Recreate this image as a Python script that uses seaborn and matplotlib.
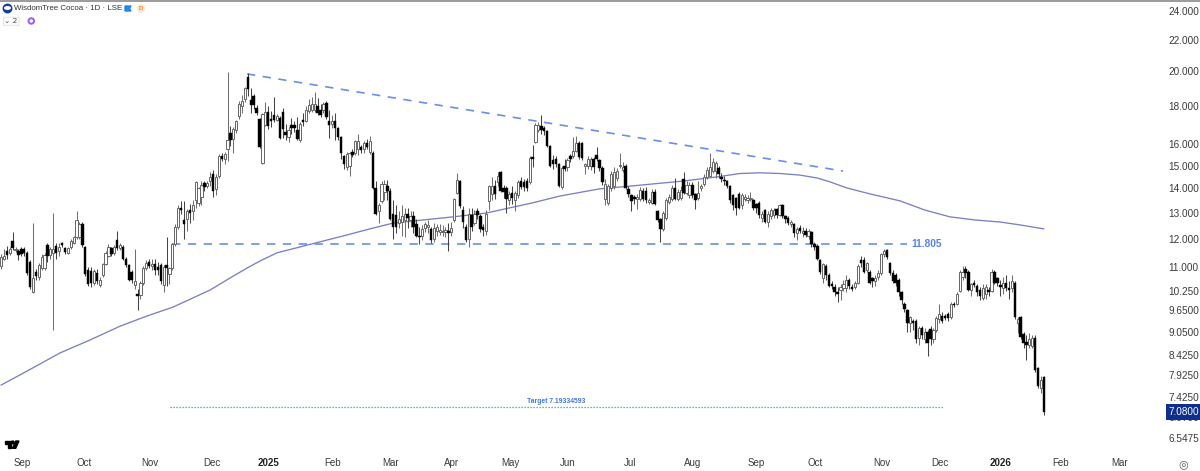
import pandas as pd
import matplotlib
matplotlib.use("Agg")
import matplotlib.pyplot as plt
import seaborn as sns
from matplotlib.lines import Line2D
from matplotlib.patches import Ellipse, FancyBboxPatch, Polygon
from matplotlib.ticker import FixedLocator, NullLocator

# daily candles
opens = [
    11.05, 11.3, 11.55, 11.5, 11.92, 11.6, 11.58, 11.62, 11.65, 11.5,
    11.2, 10.2, 10.85, 10.7, 10.97, 10.98, 11.78, 11.42, 11.48, 11.75,
    11.55, 11.85, 11.68, 11.48, 11.72, 11.85, 12.08, 12.08, 12.55, 11.72,
    10.92, 10.88, 10.5, 10.82, 10.42, 10.75, 11.12, 11.4, 11.68, 11.48,
    11.95, 11.68, 11.72, 11.3, 11.08, 10.85, 10.42, 10.15, 10.12, 10.5,
    10.97, 11.2, 11.05, 11.1, 11.0, 11.08, 10.42, 11.08, 10.78, 10.97,
    11.8, 12.45, 13.2, 12.7, 12.75, 13.1, 13.05, 13.5, 13.4, 13.65,
    14.22, 14.1, 14.3, 14.6, 13.95, 14.52, 15.45, 15.3, 15.75, 16.55,
    16.25, 16.7, 17.45, 18.0, 18.35, 19.65, 18.3, 18.55, 17.85, 17.3,
    15.1, 16.95, 17.65, 17.3, 17.5, 17.25, 17.35, 17.65, 16.6, 16.35,
    16.95, 16.95, 16.7, 16.2, 17.25, 17.2, 17.7, 17.75, 17.75, 18.0,
    17.75, 17.75, 18.15, 17.2, 17.0, 17.15, 16.8, 16.35, 15.45, 14.95,
    15.0, 15.65, 15.6, 15.75, 15.85, 15.75, 16.05, 15.65, 15.6, 14.0,
    13.05, 13.45, 13.85, 14.1, 13.9, 12.95, 12.9, 12.6, 12.65, 12.72,
    12.95, 12.72, 12.88, 12.55, 12.1, 12.1, 12.4, 12.45, 12.38, 12.0,
    12.3, 12.25, 12.25, 12.25, 12.28, 12.25, 12.7, 13.8, 14.3, 13.1,
    12.45, 12.0, 12.9, 12.6, 13.05, 12.88, 12.45, 12.3, 13.45, 13.75,
    14.1, 14.25, 14.7, 14.0, 14.0, 13.5, 13.8, 13.5, 13.72, 14.3,
    14.25, 14.3, 14.25, 15.38, 16.1, 16.7, 16.9, 16.8, 16.65, 15.9,
    15.25, 15.3, 15.05, 14.05, 15.0, 14.95, 15.45, 15.45, 15.7, 16.05,
    16.05, 14.98, 15.0, 14.98, 15.3, 15.5, 15.25, 14.9, 13.55, 13.4,
    14.0, 14.1, 14.45, 14.98, 14.8, 15.0, 13.95, 13.7, 13.62, 13.55,
    13.55, 13.9, 13.9, 13.42, 13.4, 13.85, 13.05, 12.75, 12.35, 12.8,
    13.42, 13.55, 14.0, 13.55, 13.6, 14.4, 13.8, 13.7, 14.15, 13.75,
    13.6, 14.02, 14.2, 14.5, 14.55, 14.75, 14.75, 14.9, 14.5, 14.35,
    14.3, 14.1, 13.7, 13.6, 13.75, 13.3, 13.55, 13.5, 13.55, 13.5,
    13.35, 13.4, 12.8, 13.1, 12.65, 12.85, 12.9, 13.15, 12.9, 13.3,
    12.85, 12.8, 12.55, 12.55, 12.22, 12.4, 12.2, 12.3, 12.1, 12.25,
    11.8, 11.75, 11.25, 10.65, 11.05, 10.75, 10.45, 10.38, 10.22, 10.28,
    10.33, 10.33, 10.6, 10.38, 10.38, 10.5, 11.25, 11.25, 10.9, 10.85,
    10.65, 10.55, 10.7, 10.8, 11.45, 11.6, 11.15, 10.82, 10.75, 10.6,
    10.2, 9.85, 9.65, 9.3, 9.35, 9.35, 8.88, 9.15, 8.85, 9.05,
    9.12, 8.85, 9.1, 9.4, 9.5, 9.5, 9.55, 9.45, 9.85, 9.85,
    10.25, 10.7, 10.95, 10.85, 10.28, 10.5, 10.4, 10.28, 10.03, 10.15,
    10.28, 10.25, 10.85, 10.65, 10.42, 10.33, 10.5, 10.33, 10.33, 10.5,
    9.3, 9.47, 8.98, 8.78, 8.68, 8.65, 8.88, 8.1, 7.62, 7.88,
]
highs = [
    11.45, 11.65, 11.75, 11.72, 12.25, 11.72, 11.65, 11.7, 11.72, 11.55,
    11.25, 12.6, 10.95, 11.15, 11.45, 11.5, 11.85, 11.7, 13.0, 11.85,
    11.85, 11.9, 11.72, 11.72, 11.98, 12.1, 13.05, 12.62, 12.62, 11.75,
    11.0, 11.0, 10.95, 10.95, 10.7, 11.15, 11.55, 11.82, 11.72, 11.78,
    12.28, 11.85, 11.78, 11.35, 11.12, 10.9, 11.65, 10.3, 10.55, 11.05,
    11.25, 11.28, 11.3, 11.3, 11.2, 11.15, 11.08, 12.05, 11.0, 11.85,
    12.55, 13.3, 13.45, 13.45, 13.15, 13.35, 13.5, 14.3, 14.05, 14.3,
    14.3, 14.32, 14.7, 14.8, 14.6, 15.55, 15.6, 15.65, 19.95, 16.9,
    16.85, 17.25, 18.25, 18.6, 19.05, 19.85, 19.0, 18.65, 18.05, 17.35,
    17.6, 18.2, 18.0, 17.7, 18.45, 17.55, 17.45, 17.85, 17.0, 16.85,
    17.35, 17.2, 17.4, 17.1, 17.6, 18.0, 18.35, 18.5, 18.75, 18.4,
    18.1, 18.2, 18.25, 17.75, 17.5, 17.6, 16.85, 16.4, 15.5, 15.65,
    15.65, 15.75, 16.2, 16.5, 15.95, 16.15, 16.25, 16.4, 15.7, 14.3,
    13.4, 14.3, 14.35, 14.35, 14.0, 13.5, 13.3, 13.05, 13.3, 13.2,
    13.2, 13.05, 13.05, 12.75, 12.45, 12.5, 12.65, 12.7, 12.45, 12.6,
    12.55, 12.55, 12.5, 12.45, 12.6, 12.65, 13.6, 14.65, 14.35, 13.25,
    12.55, 13.2, 13.2, 13.1, 13.2, 12.95, 12.55, 13.1, 14.15, 14.5,
    14.35, 14.7, 14.75, 14.15, 14.1, 13.9, 14.1, 13.9, 14.35, 14.5,
    14.4, 14.45, 15.45, 15.95, 17.05, 17.1, 17.5, 16.9, 16.7, 15.95,
    15.5, 15.45, 15.1, 15.0, 15.3, 15.35, 15.55, 16.35, 16.4, 16.15,
    16.1, 15.1, 15.45, 15.4, 15.4, 15.85, 15.3, 15.0, 14.4, 14.2,
    14.75, 14.95, 14.9, 15.6, 15.15, 15.05, 14.1, 13.75, 13.7, 13.75,
    14.05, 14.0, 14.05, 13.6, 13.95, 13.95, 13.1, 12.8, 13.05, 13.6,
    13.75, 14.15, 14.45, 13.95, 14.1, 14.7, 14.3, 14.25, 14.25, 13.8,
    14.3, 14.2, 14.6, 14.95, 15.6, 15.35, 15.2, 15.0, 14.65, 14.55,
    14.35, 14.15, 13.75, 13.65, 13.85, 13.8, 13.75, 13.7, 13.85, 13.55,
    13.4, 13.45, 13.05, 13.15, 13.05, 13.2, 13.2, 13.2, 13.35, 13.35,
    12.9, 12.85, 12.7, 12.6, 12.45, 12.5, 12.45, 12.4, 12.35, 12.3,
    11.9, 11.8, 11.3, 11.15, 11.1, 10.8, 10.55, 10.45, 10.35, 10.45,
    10.6, 10.75, 10.65, 10.45, 10.55, 11.1, 11.4, 11.35, 11.2, 10.9,
    10.7, 10.75, 10.9, 11.5, 11.62, 11.65, 11.2, 10.9, 10.8, 10.65,
    10.25, 9.9, 9.7, 9.5, 9.4, 9.4, 9.2, 9.2, 9.15, 9.1,
    9.2, 9.15, 9.5, 9.85, 9.6, 9.55, 9.6, 9.9, 9.9, 10.2,
    10.9, 11.05, 11.05, 10.9, 10.5, 10.6, 10.45, 10.35, 10.45, 10.45,
    10.35, 10.95, 10.9, 10.7, 10.6, 10.7, 10.75, 10.55, 10.75, 10.55,
    9.45, 9.5, 9.05, 8.95, 9.0, 8.95, 8.95, 8.12, 7.9, 7.9,
]
lows = [
    10.95, 11.25, 11.3, 11.42, 11.6, 11.52, 11.25, 11.38, 11.4, 10.75,
    10.3, 10.18, 10.6, 10.6, 10.9, 10.9, 11.2, 11.3, 9.1, 11.3,
    11.4, 11.7, 11.45, 11.45, 11.65, 11.8, 12.0, 12.0, 11.7, 10.72,
    10.4, 10.38, 10.42, 10.45, 10.38, 10.7, 11.08, 11.35, 11.38, 11.42,
    11.6, 11.6, 11.25, 11.0, 10.55, 10.5, 10.3, 9.65, 10.0, 10.42,
    10.9, 10.98, 10.9, 10.75, 10.75, 10.45, 10.22, 10.4, 10.45, 10.9,
    11.75, 12.35, 12.95, 12.0, 12.3, 12.6, 12.7, 13.2, 13.25, 13.3,
    13.9, 14.0, 14.1, 13.65, 13.7, 14.45, 15.2, 15.05, 15.2, 15.9,
    15.6, 16.55, 17.3, 17.6, 18.2, 18.55, 17.6, 17.8, 17.5, 15.8,
    15.05, 16.9, 16.75, 16.85, 17.1, 17.15, 16.25, 16.3, 16.2, 16.1,
    16.5, 16.6, 16.2, 16.1, 16.9, 17.1, 17.6, 17.65, 17.65, 17.5,
    17.4, 17.6, 17.3, 16.3, 16.8, 16.2, 16.2, 15.3, 14.85, 14.8,
    14.55, 15.4, 15.5, 15.5, 15.6, 15.6, 15.75, 15.55, 13.95, 12.9,
    12.6, 13.4, 13.5, 13.5, 12.7, 12.0, 12.2, 12.4, 12.1, 12.05,
    12.4, 12.45, 12.2, 12.05, 11.8, 11.95, 12.25, 12.2, 11.85, 11.9,
    12.1, 12.15, 12.1, 12.05, 11.55, 12.1, 12.65, 13.75, 13.2, 12.4,
    11.9, 11.7, 12.3, 12.5, 12.75, 12.25, 12.1, 12.15, 13.1, 13.5,
    13.55, 14.1, 13.85, 13.6, 13.0, 13.3, 13.35, 13.05, 13.6, 13.95,
    13.9, 13.9, 14.2, 14.95, 16.05, 16.6, 16.5, 16.45, 15.85, 14.95,
    14.85, 14.95, 14.05, 13.95, 14.75, 14.75, 15.15, 15.35, 15.65, 15.3,
    15.25, 14.6, 14.85, 14.8, 14.65, 15.2, 14.75, 14.15, 13.3, 13.3,
    13.9, 13.95, 14.3, 14.9, 14.7, 13.95, 13.65, 13.05, 13.35, 13.15,
    13.45, 13.45, 13.4, 13.35, 13.35, 13.3, 12.65, 11.9, 12.3, 12.7,
    13.35, 13.45, 13.5, 13.45, 13.5, 13.75, 13.7, 13.6, 13.6, 13.15,
    13.5, 13.9, 14.1, 14.4, 14.5, 14.65, 14.45, 14.45, 14.25, 14.15,
    14.0, 13.4, 13.1, 12.9, 13.15, 13.15, 13.45, 13.4, 13.45, 13.1,
    13.0, 12.8, 12.65, 12.6, 12.45, 12.75, 12.8, 12.8, 12.85, 12.8,
    12.6, 12.5, 12.45, 12.05, 11.95, 12.2, 12.05, 12.05, 12.0, 11.7,
    11.6, 11.25, 10.78, 10.5, 10.6, 10.35, 10.3, 10.1, 9.9, 9.95,
    10.25, 10.2, 10.3, 10.25, 10.3, 10.45, 11.0, 10.8, 10.85, 10.45,
    10.35, 10.4, 10.6, 10.75, 11.35, 11.3, 10.75, 10.5, 10.4, 10.1,
    9.85, 9.6, 9.05, 9.05, 9.1, 8.75, 8.7, 8.85, 8.75, 8.4,
    8.7, 8.75, 9.05, 9.3, 9.3, 9.38, 9.35, 9.4, 9.75, 9.8,
    10.2, 10.6, 10.65, 10.25, 10.1, 10.35, 10.1, 9.95, 9.95, 10.0,
    10.1, 10.2, 10.45, 10.4, 10.1, 10.15, 10.25, 9.98, 10.2, 9.4,
    9.0, 8.85, 8.6, 8.3, 8.6, 8.6, 8.0, 7.62, 7.5, 7.02,
]
closes = [
    11.35, 11.4, 11.42, 11.65, 11.68, 11.65, 11.42, 11.45, 11.5, 10.8,
    10.35, 10.65, 10.73, 11.08, 11.35, 11.42, 11.38, 11.65, 11.65, 11.48,
    11.72, 11.78, 11.52, 11.68, 11.92, 12.05, 12.72, 12.55, 11.78, 10.78,
    10.45, 10.5, 10.87, 10.55, 10.6, 11.12, 11.48, 11.72, 11.45, 11.72,
    11.68, 11.78, 11.3, 11.08, 10.6, 10.6, 10.55, 10.08, 10.48, 10.97,
    11.15, 11.05, 11.1, 10.92, 10.9, 10.55, 11.0, 10.97, 10.97, 11.8,
    12.45, 13.2, 13.1, 12.55, 13.05, 13.0, 13.3, 14.25, 14.0, 14.15,
    14.05, 14.22, 14.5, 13.9, 14.5, 15.45, 15.3, 15.55, 16.2, 16.2,
    16.75, 17.2, 18.1, 18.25, 19.0, 18.95, 18.05, 18.05, 17.6, 15.85,
    17.55, 17.65, 16.9, 17.15, 17.25, 17.45, 16.3, 16.75, 16.45, 16.7,
    16.8, 16.8, 16.25, 17.0, 17.1, 17.75, 18.05, 18.1, 18.1, 17.6,
    17.5, 18.1, 17.4, 16.95, 17.15, 16.8, 16.35, 15.6, 15.05, 15.55,
    15.6, 15.5, 16.15, 16.15, 15.72, 16.05, 15.85, 16.15, 14.0, 12.95,
    13.3, 14.2, 14.2, 13.9, 12.75, 12.45, 12.45, 12.75, 12.85, 12.95,
    12.8, 12.85, 12.45, 12.1, 12.05, 12.35, 12.55, 12.5, 11.97, 12.42,
    12.45, 12.32, 12.3, 12.32, 12.22, 12.42, 13.55, 14.35, 13.25, 12.62,
    11.97, 12.95, 12.45, 12.95, 12.9, 12.35, 12.32, 12.95, 14.1, 14.1,
    13.75, 14.55, 13.9, 13.85, 13.55, 13.75, 13.6, 13.8, 14.25, 14.05,
    14.05, 14.0, 15.35, 15.32, 16.95, 16.95, 16.7, 16.65, 15.9, 15.0,
    15.05, 15.05, 14.1, 14.9, 14.85, 15.25, 15.3, 15.7, 16.05, 15.4,
    15.35, 15.05, 15.3, 15.3, 14.95, 15.3, 14.88, 14.25, 14.2, 14.1,
    14.6, 14.7, 14.75, 15.02, 14.95, 14.0, 13.75, 13.45, 13.55, 13.65,
    13.92, 13.55, 13.5, 13.52, 13.85, 13.35, 12.72, 12.35, 13.0, 13.5,
    13.65, 14.0, 13.55, 13.85, 13.92, 13.8, 14.15, 14.15, 13.7, 13.5,
    13.8, 14.08, 14.5, 14.8, 14.95, 15.15, 15.1, 14.6, 14.4, 14.3,
    14.1, 13.5, 13.3, 13.2, 13.2, 13.7, 13.65, 13.58, 13.6, 13.2,
    13.2, 12.9, 12.95, 12.65, 12.95, 13.1, 13.1, 12.9, 13.3, 12.85,
    12.75, 12.6, 12.65, 12.2, 12.35, 12.3, 12.3, 12.15, 12.3, 11.8,
    11.72, 11.28, 10.85, 11.1, 10.75, 10.4, 10.4, 10.2, 10.15, 10.37,
    10.45, 10.6, 10.4, 10.3, 10.5, 11.05, 11.15, 10.85, 11.15, 10.5,
    10.55, 10.65, 10.8, 11.45, 11.58, 11.35, 10.82, 10.55, 10.5, 10.2,
    9.95, 9.7, 9.3, 9.45, 9.28, 8.85, 9.15, 8.95, 9.05, 8.75,
    8.85, 9.1, 9.42, 9.55, 9.35, 9.42, 9.42, 9.85, 9.8, 10.15,
    10.85, 10.85, 10.8, 10.28, 10.45, 10.42, 10.2, 10.08, 10.33, 10.35,
    10.2, 10.85, 10.5, 10.5, 10.38, 10.5, 10.33, 10.28, 10.55, 9.45,
    9.4, 8.9, 8.75, 8.68, 8.85, 8.88, 8.05, 7.66, 7.8, 7.08,
]

# moving average, bar number -> price
ma_bars = [0, 6.5, 13.4, 20.3, 30.6, 41, 50.3, 59.2, 72, 78.8, 84.7, 89.2, 95, 103, 119,
           127, 135, 155.6, 167, 183, 192.4, 206, 217.6, 235, 246.5, 254.4, 261, 268.2,
           275, 281, 285.4, 291.2, 299.1, 309.5, 318, 326.7, 335.3, 344, 350.8, 359]
ma_values = [7.69, 7.93, 8.20, 8.48, 8.82, 9.20, 9.49, 9.75, 10.27, 10.65, 10.98, 11.22,
             11.50, 11.71, 12.14, 12.37, 12.59, 12.83, 12.98, 13.39, 13.67, 13.97, 14.10,
             14.31, 14.49, 14.64, 14.67, 14.64, 14.57, 14.44, 14.27, 14.01, 13.76, 13.47,
             13.10, 12.83, 12.71, 12.63, 12.52, 12.37]

# drawings on the chart
trend_bars = [84.7, 289.9]
trend_values = [19.82, 14.75]
support_bars = [59, 312]
support_value = 11.805
target_bars = [58.2, 324.3]
target_value = 7.19334593

y_ticks = [24.0, 22.0, 20.0, 18.0, 16.0, 15.0, 14.0, 13.0, 12.0, 11.0, 10.25,
           9.65, 9.05, 8.425, 7.925, 7.425, 6.97, 6.5475]
y_labels = ["24.000", "22.000", "20.000", "18.000", "16.000", "15.000", "14.000",
            "13.000", "12.000", "11.000", "10.250", "9.6500", "9.0500", "8.4250",
            "7.9250", "7.4250", "6.9700", "6.5475"]
x_ticks = [7.2, 28.6, 51.3, 72.6, 92, 114, 134.2, 155, 175.5, 195, 216.5, 238.2, 260,
           280.2, 303.3, 323.3, 344, 364.9, 385]
x_labels = ["Sep", "Oct", "Nov", "Dec", "2025", "Feb", "Mar", "Apr", "May", "Jun", "Jul",
            "Aug", "Sep", "Oct", "Nov", "Dec", "2026", "Feb", "Mar"]

df = pd.DataFrame({"open": opens, "high": highs, "low": lows, "close": closes})
df["bar"] = range(len(df))
df["up"] = df["close"] >= df["open"]

sns.set_theme(style="white")
plt.rcParams["font.family"] = ["Liberation Sans", "DejaVu Sans"]

fig = plt.figure(figsize=(12, 4.71), dpi=100)
ax = fig.add_axes([0, 24 / 471, 1165 / 1200, 447 / 471])

# candles
up = df[df["up"]]
down = df[~df["up"]]
ax.vlines(up["bar"], up["low"], up["high"], color="#707070", linewidth=0.75, zorder=3)
ax.vlines(down["bar"], down["low"], down["high"], color="#444444", linewidth=0.75, zorder=3)
ax.bar(up["bar"], up["close"] - up["open"], bottom=up["open"], width=0.75,
       facecolor="white", edgecolor="#666666", linewidth=0.7, zorder=4)
ax.bar(down["bar"], down["open"] - down["close"], bottom=down["close"], width=0.85,
       facecolor="black", edgecolor="black", linewidth=0.3, zorder=4)

# moving average and drawings
sns.lineplot(x=ma_bars, y=ma_values, color="#7b7fc4", linewidth=0.95, estimator=None,
             sort=False, ax=ax, zorder=2)
sns.lineplot(x=trend_bars, y=trend_values, color="#6a8fe8", linewidth=1.2,
             linestyle=(0, (5, 4.5)), estimator=None, ax=ax, zorder=2)
sns.lineplot(x=support_bars, y=[support_value] * 2, color="#6a8fe8", linewidth=1.2,
             linestyle=(0, (5, 4.5)), estimator=None, ax=ax, zorder=2)
sns.lineplot(x=target_bars, y=[target_value] * 2, color="#3f9f6a", linewidth=0.9,
             linestyle=(0, (1, 1.4)), estimator=None, ax=ax, zorder=2)

ax.text(support_bars[1] + 1.5, support_value, "11.805", color="#5b84e6", fontsize=7.4,
        fontweight="bold", va="center", ha="left")
ax.text(191.2, target_value * 1.007, f"Target {target_value:.8f}", color="#3f78d8",
        fontsize=4.9, fontweight="bold", va="bottom", ha="center")

ax.set_yscale("log")
ax.set_xlim(-0.34, 400.7)
ax.set_ylim(6.37, 24.82)
ax.yaxis.set_major_locator(FixedLocator(y_ticks))
ax.yaxis.set_minor_locator(NullLocator())
ax.set_yticklabels(y_labels)
ax.yaxis.tick_right()
ax.set_xticks(x_ticks)
ax.set_xticklabels(x_labels)
ax.tick_params(axis="y", length=0, pad=2.5, labelsize=7.2, labelcolor="#3a3a3a")
ax.tick_params(axis="x", length=0, pad=8, labelsize=7.0, labelcolor="#3a3a3a")
for lab in ax.get_xticklabels():
    if lab.get_text() in ("2025", "2026"):
        lab.set_fontweight("bold")
        lab.set_color("#222222")
for side in ax.spines.values():
    side.set_visible(False)
ax.patch.set_alpha(0)

# last price tag
ax.annotate(f"{closes[-1]:.4f}", xy=(1.0, closes[-1]), xycoords=("axes fraction", "data"),
            xytext=(2.5, 0), textcoords="offset points", fontsize=7.2, color="white",
            va="center", ha="left", zorder=10, annotation_clip=False,
            bbox=dict(boxstyle="square,pad=0.28", fc="#0f2f8f", ec="none"))


# header and TradingView bits, all placed in image pixels
def fx(x):
    return x / 1200


def fy(y):
    return 1 - y / 471


fig.add_artist(Line2D([0, 1], [fy(0.5), fy(0.5)], color="#9a9a9a", linewidth=1.4))
fig.text(fx(14.5), fy(8.5), "WisdomTree Cocoa · 1D · LSE", fontsize=5.7, color="#333333",
         va="center", ha="left")

w, h = fig.get_size_inches() * fig.dpi
fig.add_artist(Ellipse((fx(7.5), fy(8.5)), 8.5 / w, 8.5 / h, color="#14409c"))
fig.add_artist(Ellipse((fx(7.5), fy(8)), 5.5 / w, 2.5 / h, color="white"))
fig.add_artist(Polygon([(fx(125), fy(6)), (fx(131), fy(6)), (fx(129.5), fy(8.5)), (fx(131), fy(11)),
                        (fx(125), fy(11))], color="#1e88ef"))
fig.add_artist(Ellipse((fx(141), fy(8.5)), 7 / w, 7 / h, color="#fde6cc"))
fig.text(fx(141), fy(8.5), "D", fontsize=4.2, color="#f0902e", fontweight="bold",
         va="center", ha="center")
fig.add_artist(FancyBboxPatch((fx(3.5), fy(25.3)), 15.5 / w, 8 / h, boxstyle="round,pad=0",
                              fc="white", ec="#e4e4e4", linewidth=0.7,
                              transform=fig.transFigure))
fig.text(fx(11), fy(21), "⌄ 2", fontsize=5.4, color="#444444", va="center", ha="center",
         family=["DejaVu Sans"])
fig.add_artist(Ellipse((fx(31.3), fy(21)), 5.5 / w, 5.5 / h, fc="none", ec="#9a5cf0", linewidth=1.4))

# logo
fig.add_artist(Polygon([(fx(4.5), fy(441)), (fx(10.5), fy(441)), (fx(10.5), fy(448.3)),
                        (fx(7.6), fy(448.3)), (fx(7.6), fy(443.8)), (fx(4.5), fy(443.8))],
                       color="black"))
fig.add_artist(Ellipse((fx(12.8), fy(442.4)), 2.7 / w, 2.7 / h, color="black"))
fig.add_artist(Polygon([(fx(15.8), fy(441)), (fx(19), fy(441)), (fx(15.7), fy(448.3)),
                        (fx(12.4), fy(448.3))], color="black"))
fig.text(fx(1183), fy(464.5), "◎", fontsize=8, color="#555555", va="center", ha="center",
         family=["DejaVu Sans"])

plt.savefig("out.png", dpi=100)
plt.close()
